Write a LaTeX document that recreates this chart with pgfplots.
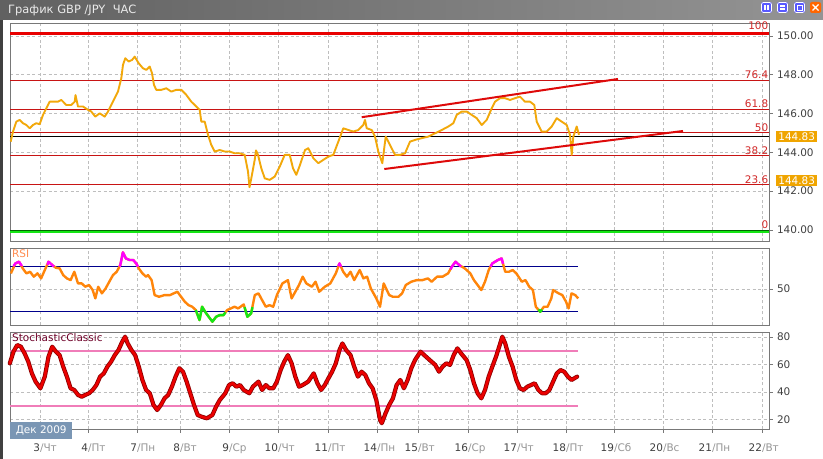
\documentclass[border=0pt]{standalone}
\usepackage{pgfplots}
\usepackage{pgfplotstable}
\pgfplotsset{compat=1.18}
\usepackage{fontspec}
\setmainfont{DejaVu Sans}

\definecolor{pricec}{RGB}{242,168,10}
\definecolor{rsic}{RGB}{255,133,10}
\definecolor{magc}{RGB}{255,0,255}
\definecolor{grnc}{RGB}{20,230,20}
\definecolor{bluec}{RGB}{0,0,140}
\definecolor{pinkc}{RGB}{240,125,185}
\definecolor{fibc}{RGB}{200,20,20}
\definecolor{fibtxt}{RGB}{210,40,40}
\definecolor{redthick}{RGB}{232,0,0}
\definecolor{trendc}{RGB}{222,10,10}
\definecolor{stochc}{RGB}{235,0,0}
\definecolor{stochd}{RGB}{140,0,0}
\definecolor{axgray}{RGB}{120,120,120}
\definecolor{gridc}{RGB}{190,190,190}
\definecolor{tickc}{RGB}{64,64,64}
\definecolor{dayc}{RGB}{150,150,150}
\definecolor{tagc}{RGB}{240,165,0}
\definecolor{dekc}{RGB}{122,150,180}
\definecolor{stlab}{RGB}{110,0,40}
\definecolor{rsilab}{RGB}{255,140,80}

\pgfplotstableread{
x p
10.7 144.55
13 145.07
16.3 145.58
19.7 145.67
23 145.50
26.3 145.41
29.7 145.24
33 145.41
36.3 145.50
39.7 145.45
43 145.93
46.3 146.27
49.7 146.61
53 146.61
58 146.61
61.3 146.70
66.3 146.44
71.3 146.44
74.7 146.61
75.5 146.95
78 146.36
83 146.36
88 146.19
91.3 146.10
95.3 145.84
99.7 146.01
104.7 145.84
108 146.10
111.3 146.44
114.7 146.79
118 147.13
121.3 147.82
123 148.51
125.3 148.85
128.7 148.68
132 148.76
134.7 148.93
138.7 148.59
143 148.33
146.3 148.25
149.7 148.42
152 148.08
154 147.47
156.3 147.22
161.3 147.22
166.3 147.30
171.3 147.13
176.3 147.22
181.3 147.22
186.3 146.96
191.3 146.61
196.3 146.36
199.7 146.19
201.3 145.58
204.7 145.58
208 144.90
211.3 144.38
214.7 144.04
219.7 144.12
224.7 144.04
229.7 144.04
234.7 143.95
239.7 143.95
244.7 143.87
248 143.01
249.5 142.20
251.3 142.66
254.7 143.61
256 144.10
258 143.87
261.3 143.18
264.7 142.66
269.7 142.58
274.7 142.75
279.7 143.26
284.7 143.87
289.7 143.87
293 143.18
296.3 142.84
300 143.35
305 144.12
308.3 144.21
313.3 143.70
318.3 143.44
323.3 143.61
328.3 143.78
333.3 143.87
338.3 144.55
343.3 145.24
348.3 145.15
353.3 145.07
358.3 145.15
363.3 145.41
365 145.67
366.7 145.24
371.7 145.15
375 144.81
378.3 144.04
382.3 143.44
385.7 144.81
390 144.38
395 143.87
400 143.87
405 143.95
410 144.55
415 144.64
421.7 144.73
428.3 144.81
435 144.98
441.7 145.15
448.3 145.33
453.3 145.50
456.7 145.93
461.7 146.10
466.7 146.10
471.7 145.93
476.7 145.76
481.7 145.41
486.7 145.67
491.7 146.27
495 146.61
500 146.79
505 146.79
510 146.70
515 146.79
520 146.87
525 146.61
530 146.61
534.3 146.44
536.7 145.58
541.7 145.07
546.7 145.07
551.7 145.33
556.7 145.76
561.7 145.58
566.7 145.41
570 144.90
571.7 143.87
573.3 144.81
576.7 145.33
579 144.90
}\pricedata

\pgfplotstableread{
x r
10.9 63.6
15.4 72.3
19.0 73.8
22.7 68
26.4 63.6
30.1 65
33.8 60.7
37.5 63.6
41.1 59.2
44.8 66.5
48.5 73.8
52.2 70.9
55.9 68.5
59.6 68
63.2 62.1
66.9 59.2
70.6 57.7
74.3 65
78.0 54.8
81.7 54.8
85.3 51.9
89.0 53.4
92.7 49
95.3 41.7
98.2 51.9
101.9 46.1
105.6 50.4
109.3 56.3
113.0 62.1
116.7 65
120.3 70.9
122.9 82
125.9 76.7
129.5 75.3
133.2 75.3
136.2 72.3
138.8 68
142.4 63.6
146.1 60.7
148.0 62.1
151.6 57.7
154.6 44.6
159.0 43.1
164.5 44.6
170.1 44.6
173.7 46.1
177.4 47.5
181.1 43.1
184.8 38.8
188.5 35.8
192.2 34.4
195.8 31.5
199.5 22.7
202.1 34.4
205.1 30
208.7 25.6
212.4 21.3
216.1 25.6
219.8 27.1
223.5 27.1
227.2 31.5
230.8 32.9
234.5 34.4
238.2 32.9
243.7 36.4
247.4 25.6
251.1 28.6
254.8 44.6
258.5 46.1
262.1 40.2
265.8 34.4
269.5 35.8
273.2 34.4
276.9 44.6
282.4 54.8
287.9 57.7
291.6 41.7
295.3 47.5
299.0 53.4
302.7 60.7
306.3 54.8
311.9 51.9
315.5 56.3
319.2 47.5
324.8 51.9
330.3 54.8
335.8 63.6
339.5 72.3
343.2 65
346.9 60.7
350.5 65
354.2 57.7
359.7 66.5
363.4 59.2
367.1 60.7
370.8 50.4
376.3 41.7
380.0 34.4
383.7 54.8
389.2 44.6
392.9 43.1
398.4 43.1
402.1 46.1
405.8 53.4
411.3 56.3
416.8 57.7
422.4 57.7
427.9 59.2
431.6 56.3
437.1 60.7
442.6 60.7
448.1 63.6
451.8 69.4
455.5 73.8
459.2 70.9
464.7 68
470.3 63.6
473.9 57.7
477.6 53.4
481.3 49
485.0 56.3
488.7 66.5
492.3 72.3
497.9 75.3
501.6 76.7
505.2 65
508.9 65
512.6 66.5
516.3 63.6
521.8 56.3
525.5 57.7
529.2 51.9
532.9 49
535.8 34.4
540.2 30
543.9 34.4
547.6 34.4
551.3 41.7
553.1 49
558.6 46.1
562.3 44.6
566.0 38.8
568.6 32.9
571.5 46.1
575.2 44.6
578.2 41.7
}\rsidata

\pgfplotstableread{
x s
9.8 60.8
13.5 69.3
17.2 74.1
20.9 72.9
24.6 68.1
28.3 62
31.9 53.5
35.6 47.5
40.4 42.6
44.8 51.1
48.5 65.6
52.2 72.9
55.9 69.3
59.6 66.8
63.2 58.4
66.9 51.1
70.6 42.6
74.3 41.4
78 37.8
81.7 36.5
85.3 37.8
89 39
92.7 41.4
96.4 45
100.1 51.1
103.8 53.5
107.4 58.4
111.1 62
114.8 66.8
118.5 70.5
122.2 76.5
125.1 80.2
127.7 75.3
131.4 70.5
135.1 66.8
138.8 58.4
142.4 48.7
146.1 41.4
149.8 39
153.5 30.5
157.2 26.8
160.9 30.5
164.5 35.3
168.2 37.8
171.9 43.8
175.6 51.1
179.3 57.2
183 54.7
186.6 47.5
190.3 39
194 30.5
197.7 23.2
201.4 22
206.9 20.8
212.4 23.2
216.1 29.3
219.8 34.1
225.3 39
229 45
232.7 46.3
236.4 43.8
240 45
243.7 41.4
249.3 39
252.9 43.8
258.5 47.5
262.1 41.4
265.8 45
269.5 42.6
273.2 42.6
276.9 47.5
280.6 55.9
284.2 62
287.9 66.8
291.6 60.8
295.3 51.1
299 43.8
302.7 45
308.2 47.5
313.7 53.5
317.4 46.3
321.1 41.4
324.8 45
328.4 49.9
332.1 54.7
335.8 60.8
339.5 70.5
342.4 75.3
346.1 70.5
350.5 66.8
354.2 58.4
357.9 51.1
361.6 54.7
365.3 52.3
369 46.3
372.6 42.6
376.3 34.1
380 19.6
381.8 17.2
385.5 24.4
389.2 30.5
392.9 35.3
396.6 45
400.3 48.7
403.9 42.6
407.6 48.7
411.3 57.2
415 63.2
420.5 69.3
424.2 66.8
429.7 63.2
435.3 59.6
439 54.7
442.6 58.4
446.3 60.8
450 59.6
453.7 66.8
457.4 71.7
461 68.1
466.6 63.2
470.3 55.9
473.9 46.3
477.6 39
481.3 35.3
485 41.4
488.7 51.1
492.3 58.4
496 65.6
499.7 74.1
502.3 80.2
505.2 75.3
508.9 65.6
512.6 58.4
516.3 48.7
519.9 42.6
523.6 41.4
527.3 43.8
531 45
534.7 46.3
538.4 41.4
542.1 39
545.7 39
549.4 41.4
553.1 47.5
556.8 53.5
560.5 55.9
564.2 54.7
567.9 51.1
571.5 48.7
577.1 51.1
}\stochdata

\newcommand{\dl}[2]{\llap{\color{tickc}#1}\rlap{\color{dayc}/#2}}

\pgfplotsset{
  panel/.style={
    scale only axis, width=759bp, xmin=10, xmax=769,
    anchor=south west, clip=false,
    axis line style={draw=axgray, line width=0.9pt},
    grid=major,
    major grid style={draw=gridc, line width=0.6pt, dash pattern=on 3bp off 2.5bp},
    xtick={40,88,137,180,229,278,328,377,418,468,517,566,614,663,712,762},
    xtick pos=bottom, ytick pos=right, yticklabel pos=right,
    tick align=outside, major tick length=3.5bp,
    tick style={draw=axgray, line width=0.6pt},
    tick label style={font=\fontsize{10.5}{12}\selectfont, text=tickc},
    yticklabel style={xshift=1bp},
  },
}

\begin{document}
\begin{tikzpicture}
\begin{scope}[x=1bp,y=1bp]
\path[use as bounding box] (0,0) rectangle (823,-459);
\fill[white] (0,0) rectangle (823,-459);
% title bar
\shade[left color=black!62, right color=black!42] (0,0) rectangle (823,-20);
\node[anchor=west, text=white!92!black, font=\fontsize{11.5}{13}\selectfont, inner sep=0pt] at (8,-10) {График GBP /JPY\ \ ЧАС};
% window buttons
\foreach \bx in {761,777,794}{
  \fill[blue!65!white, rounded corners=2bp] (\bx,-2) rectangle ++(11,-11);
  \draw[white, line width=0.7pt, rounded corners=2bp] (\bx+0.5,-2.5) rectangle ++(10,-10);
}
\fill[white] (764,-5) rectangle ++(1.6,-5); \fill[white] (767.4,-5) rectangle ++(1.6,-5);
\fill[white] (780,-5.5) rectangle ++(5,-1.5); \fill[white] (780,-8.5) rectangle ++(5,-1.5);
\draw[white, line width=0.8pt] (797,-5) rectangle ++(5,-5);
\fill[orange!80!red, rounded corners=2bp] (810,-2) rectangle ++(11,-11);
\draw[white, line width=1.2pt] (812.5,-4.5) -- (818.5,-10.5) (812.5,-10.5) -- (818.5,-4.5);
% left window border
\fill[black!75] (0,-20) rectangle (2.5,-459);
\end{scope}

% ---------- price panel ----------
\begin{axis}[panel, at={(10bp,-241bp)}, height=217.7bp,
  ymin=139.43, ymax=150.65,
  ytick={140,142,144,146,148,150},
  yticklabels={140.00,142.00,144.00,146.00,148.00,150.00},
  xticklabels={}, xtick style={draw=none}]
  % fibonacci levels
  \addplot[fibc, line width=0.9pt] coordinates {(10,147.73) (769,147.73)};
  \addplot[fibc, line width=0.9pt] coordinates {(10,146.23) (769,146.23)};
  \addplot[fibc, line width=0.9pt] coordinates {(10,145.02) (769,145.02)};
  \addplot[fibc, line width=0.9pt] coordinates {(10,143.82) (769,143.82)};
  \addplot[fibc, line width=0.9pt] coordinates {(10,142.32) (769,142.32)};
  \addplot[redthick, line width=3.6pt] coordinates {(10,150.13) (769,150.13)};
  \addplot[black!60!green, line width=3.2pt] coordinates {(10,139.9) (769,139.9)};
  \addplot[grnc, line width=2.2pt] coordinates {(10,139.88) (769,139.88)};
  \addplot[black, line width=0.9pt] coordinates {(10,144.83) (769,144.83)};
  % price
  \addplot[pricec, line width=1.9pt, line join=round] table[x=x, y=p] {\pricedata};
  % trend channel
  \addplot[trendc, line width=2pt] coordinates {(361.7,145.81) (618,147.78)};
  \addplot[trendc, line width=2pt] coordinates {(384.3,143.14) (683,145.10)};
  % level labels
  \begin{scope}[every node/.style={anchor=south east, text=fibtxt, font=\fontsize{10.5}{12}\selectfont, inner sep=0.6bp}]
    \node at (axis cs:769,150.28) {100};
    \node at (axis cs:769,147.76) {76.4};
    \node at (axis cs:769,146.26) {61.8};
    \node at (axis cs:769,145.05) {50};
    \node at (axis cs:769,143.85) {38.2};
    \node at (axis cs:769,142.35) {23.6};
    \node at (axis cs:769,140.0) {0};
  \end{scope}
  \node[anchor=west, fill=tagc, text=white, font=\fontsize{10.5}{12}\selectfont, inner sep=1.6bp, minimum width=41bp] at (axis cs:776,144.83) {144.83};
  \node[anchor=west, fill=tagc, text=white, font=\fontsize{10.5}{12}\selectfont, inner sep=1.6bp, minimum width=41bp] at (axis cs:776,142.53) {144.83};
\end{axis}

% ---------- RSI panel ----------
\begin{axis}[panel, at={(10bp,-325bp)}, height=77bp,
  ymin=18.4, ymax=85.8, ytick={50}, yticklabels={50},
  xticklabels={}, xtick style={draw=none}]
  \addplot[bluec, line width=0.9pt] coordinates {(10,70) (578,70)};
  \addplot[bluec, line width=0.9pt] coordinates {(10,30) (578,30)};
  \addplot[rsic, line width=2.4pt, line join=round] table[x=x, y=r] {\rsidata};
  \addplot[magc, line width=2.4pt, line join=round] coordinates {(13.5,70) (15.4,72.3) (19.0,73.8) (22,70)};
  \addplot[magc, line width=2.4pt, line join=round] coordinates {(47.5,71) (48.5,73.8) (52.2,70.9) (54,69.5)};
  \addplot[magc, line width=2.4pt, line join=round] coordinates {(119.5,69.5) (120.3,70.9) (122.9,82) (125.9,76.7) (129.5,75.3) (133.2,75.3) (136.2,72.3) (138,69.5)};
  \addplot[magc, line width=2.4pt, line join=round] coordinates {(338.3,70) (339.5,72.3) (341,69.5)};
  \addplot[magc, line width=2.4pt, line join=round] coordinates {(450.5,67) (451.8,69.4) (455.5,73.8) (459.2,70.9) (461,69.5)};
  \addplot[magc, line width=2.4pt, line join=round] coordinates {(490.5,69.5) (492.3,72.3) (497.9,75.3) (501.6,76.7) (503,72)};
  \addplot[grnc, line width=2.4pt, line join=round] coordinates {(195.8,31.5) (199.5,22.7) (202.1,34.4) (205.1,30) (208.7,25.6) (212.4,21.3) (216.1,25.6) (219.8,27.1) (223.5,27.1) (225.5,29.5)};
  \addplot[grnc, line width=2.4pt, line join=round] coordinates {(244.5,34) (247.4,25.6) (251.1,28.6) (252.5,34)};
  \addplot[grnc, line width=2.4pt, line join=round] coordinates {(538.5,32) (540.2,30) (542,32)};
  \node[anchor=north west, text=rsilab, font=\fontsize{10.5}{12}\selectfont, inner sep=0pt] at (axis cs:12,84.5) {RSI};
\end{axis}

% ---------- Stochastic panel ----------
\begin{axis}[panel, at={(10bp,-429bp)}, height=97bp,
  ymin=13, ymax=83.6, ytick={20,40,60,80}, yticklabels={20,40,60,80},
  xticklabels={\dl{3}{Чт},\dl{4}{Пт},\dl{7}{Пн},\dl{8}{Вт},\dl{9}{Ср},\dl{10}{Чт},\dl{11}{Пт},\dl{14}{Пн},\dl{15}{Вт},\dl{16}{Ср},\dl{17}{Чт},\dl{18}{Пт},\dl{19}{Сб},\dl{20}{Вс},\dl{21}{Пн},\dl{22}{Вт}},
  xticklabel style={anchor=base, yshift=-19bp}]
  \addplot[pinkc, line width=1.8pt] coordinates {(10,70) (578,70)};
  \addplot[pinkc, line width=1.8pt] coordinates {(10,30) (578,30)};
  \addplot[stochd, line width=4.2pt, line join=round, line cap=round] table[x=x, y=s] {\stochdata};
  \addplot[stochc, line width=2.6pt, line join=round, line cap=round] table[x=x, y=s] {\stochdata};
  \node[anchor=north west, text=stlab, font=\fontsize{10.5}{12}\selectfont, inner sep=0pt] at (axis cs:12,82.5) {StochasticClassic};
\end{axis}

\begin{scope}[x=1bp,y=1bp]
\node[anchor=north west, fill=dekc, text=white, font=\fontsize{10.5}{12}\selectfont, minimum width=62bp, minimum height=17bp, inner sep=1bp] at (10,-421.5) {Дек 2009};
\end{scope}
\end{tikzpicture}
\end{document}
